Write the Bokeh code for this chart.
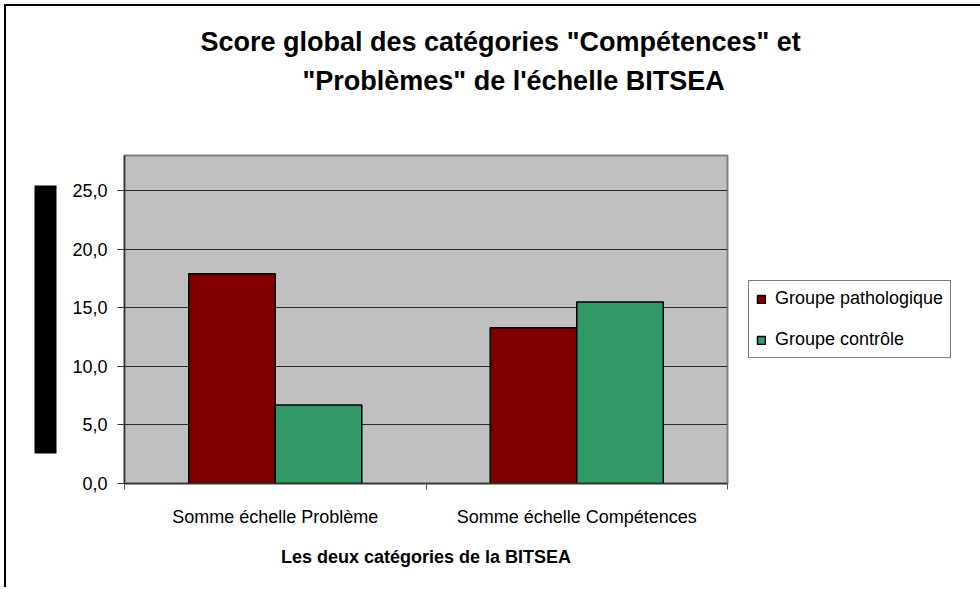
from bokeh.plotting import figure
from bokeh.models import (Range1d, FixedTicker, Legend, LegendItem, Title,
                          ColorBar, LinearColorMapper, ColumnDataSource)
from bokeh.embed import file_html
from bokeh.resources import INLINE

# ---- data ----
categories = ["Somme échelle Problème", "Somme échelle Compétences"]
series_names = ["Groupe pathologique", "Groupe contrôle"]
pathologique = [17.9, 13.3]
controle = [6.7, 15.5]
y_ticks = [0, 5, 10, 15, 20, 25]
y_tick_labels = ["0,0", "5,0", "10,0", "15,0", "20,0", "25,0"]
title_lines = ['Score global des catégories "Compétences" et',
               '"Problèmes" de l\'échelle BITSEA']
x_title = "Les deux catégories de la BITSEA"
colors = ["#800000", "#339966"]

FONT = "Liberation Sans"
n = len(categories)
bw = 0.287

p = figure(output_backend="svg", toolbar_location=None,
           frame_width=603, frame_height=328,
           min_border_left=118, min_border_right=243,
           min_border_top=149, min_border_bottom=104,
           x_range=Range1d(0, n), y_range=Range1d(0, 28))
p.title = None
p.background_fill_color = "#C0C0C0"
p.border_fill_color = "white"
p.outline_line_color = "#808080"
p.outline_line_width = 2
p.styles = {"margin-left": "4px", "margin-top": "4px",
            "border-left": "2px solid black", "border-top": "2px solid black"}

centers = [i + 0.5 for i in range(n)]
src = ColumnDataSource(dict(
    xp=[c - bw / 2 for c in centers],
    xc=[c + bw / 2 for c in centers],
    pat=pathologique, con=controle))

r1 = p.vbar(x="xp", top="pat", width=bw, bottom=0, source=src,
            fill_color=colors[0], line_color="black", line_width=1.5)
r2 = p.vbar(x="xc", top="con", width=bw, bottom=0, source=src,
            fill_color=colors[1], line_color="black", line_width=1.5)

# grid
p.xgrid.visible = False
p.ygrid.ticker = FixedTicker(ticks=y_ticks)
p.ygrid.grid_line_color = "#2a2a2a"
p.ygrid.grid_line_width = 1
p.ygrid.level = "underlay"

# y axis
yax = p.yaxis[0]
yax.ticker = FixedTicker(ticks=y_ticks)
yax.major_label_overrides = dict(zip(y_ticks, y_tick_labels))
yax.major_label_text_font = FONT
yax.major_label_text_font_size = "18px"
yax.major_label_text_color = "black"
yax.major_tick_out = 7
yax.major_tick_in = 0
yax.minor_tick_out = 0
yax.minor_tick_in = 0
yax.major_label_standoff = 10
yax.axis_line_color = "#333333"
yax.axis_line_width = 1.5
yax.major_tick_line_color = "#333333"

# x axis
xax = p.xaxis[0]
xax.ticker = FixedTicker(ticks=centers, minor_ticks=list(range(n + 1)))
xax.major_label_overrides = dict(zip(centers, categories))
xax.major_label_text_font = FONT
xax.major_label_text_font_size = "18px"
xax.major_label_text_color = "black"
xax.major_tick_out = 0
xax.major_tick_in = 0
xax.minor_tick_out = 6
xax.minor_tick_in = 0
xax.minor_tick_line_color = "#555555"
xax.major_label_standoff = 17
xax.axis_line_color = "#333333"
xax.axis_line_width = 1.5
xax.axis_label = x_title
xax.axis_label_text_font = FONT
xax.axis_label_text_font_size = "18px"
xax.axis_label_text_font_style = "bold"
xax.axis_label_text_color = "black"
xax.axis_label_standoff = 17

# black block beside the y axis (the y-axis title as it appears)
cb = ColorBar(color_mapper=LinearColorMapper(palette=["#000000"], low=0, high=1),
              width=22, height=268, location="center", orientation="vertical",
              margin=0, padding=13, ticker=FixedTicker(ticks=[]),
              major_label_text_font_size="0px", major_tick_line_color=None,
              minor_tick_line_color=None, bar_line_color=None,
              border_line_color=None, background_fill_alpha=0)
p.add_layout(cb, "left")

# legend
legend = Legend(items=[LegendItem(label=series_names[0], renderers=[r1]),
                       LegendItem(label=series_names[1], renderers=[r2])],
                location="center_left", margin=21)
legend.label_text_font = FONT
legend.label_text_font_size = "18px"
legend.label_text_color = "black"
legend.glyph_width = 10
legend.glyph_height = 10
legend.label_height = 20
legend.spacing = 20
legend.padding = 7
legend.label_standoff = 9
legend.border_line_color = "black"
legend.border_line_width = 1
legend.background_fill_color = "white"
legend.background_fill_alpha = 1
p.add_layout(legend, "right")

# spacer between title and plot
p.add_layout(Title(text=" ", text_font_size="10px", standoff=43), "above")
# title (two lines, second line nearest the plot)
for txt, off, so in [(title_lines[1], 178, 8), (title_lines[0], 76, 6)]:
    p.add_layout(Title(text=txt, align="left", offset=off, standoff=so,
                       text_font=FONT, text_font_size="27px",
                       text_font_style="bold", text_color="black"), "above")

open("out.html", "w").write(file_html(p, INLINE))
